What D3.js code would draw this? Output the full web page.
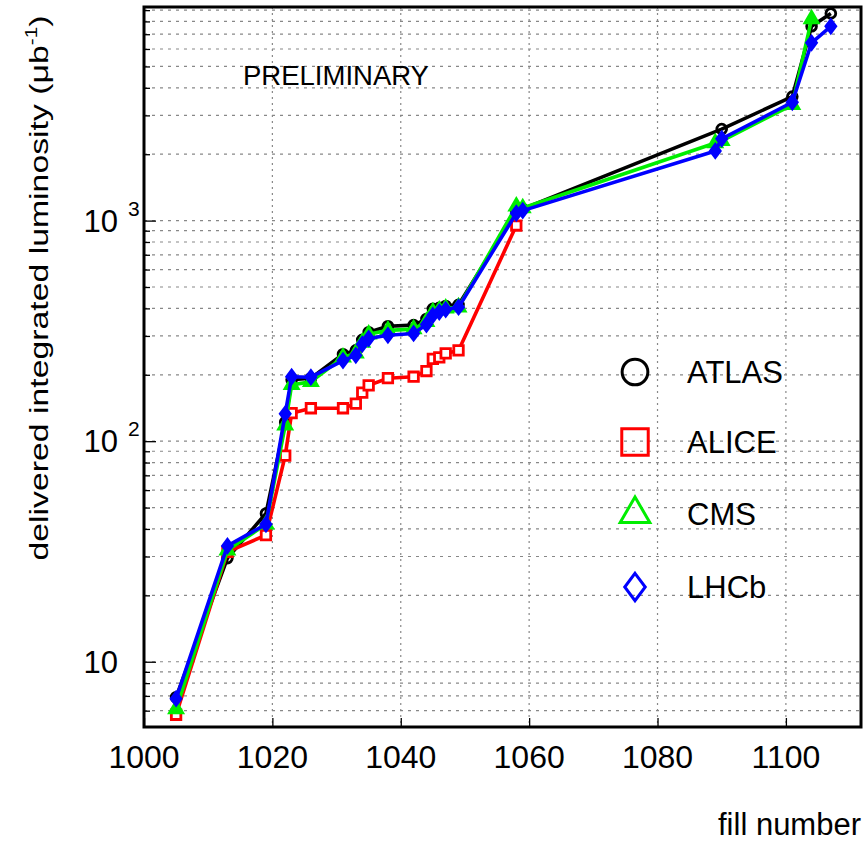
<!DOCTYPE html>
<html>
<head>
<meta charset="utf-8">
<script src="https://cdn.jsdelivr.net/npm/d3@7/dist/d3.min.js"></script>
<style>
  html, body { margin: 0; padding: 0; background: #fff; }
  svg text { font-family: "Liberation Sans", Arial, Helvetica, sans-serif; fill: #000; }
</style>
</head>
<body>
<div id="main"></div>
<script>
// data (fill number / delivered lumi in ub^-1)
const atlasFills = [1005, 1013, 1019, 1022, 1023, 1026, 1031, 1033, 1034, 1035, 1038, 1042, 1044, 1045, 1046, 1047, 1049, 1058, 1059, 1090, 1101, 1104, 1107];
const atlasLumi  = [6.9, 29.5, 47, 122, 190, 193, 248, 258, 288, 312, 332, 336, 358, 398, 402, 410, 415, 1100, 1130, 2600, 3650, 7600, 8700];

const aliceFills = [1005, 1013, 1019, 1022, 1023, 1026, 1031, 1033, 1034, 1035, 1038, 1042, 1044, 1045, 1046, 1047, 1049, 1058];
const aliceLumi  = [5.75, 31.5, 37.5, 86, 134, 141, 141, 148, 166, 179, 193, 196, 208, 236, 240, 250, 258, 950];

const cmsFills = [1005, 1013, 1019, 1022, 1023, 1026, 1031, 1033, 1034, 1035, 1038, 1042, 1044, 1045, 1046, 1047, 1049, 1058, 1059, 1089, 1090, 1101, 1104];
const cmsLumi  = [6.1, 32, 42, 118, 180, 186, 240, 250, 280, 305, 318, 322, 348, 385, 392, 400, 405, 1160, 1140, 2250, 2300, 3350, 8200];

const lhcbFills = [1005, 1013, 1019, 1022, 1023, 1026, 1031, 1033, 1034, 1035, 1038, 1042, 1044, 1045, 1046, 1047, 1049, 1058, 1059, 1089, 1090, 1101, 1104, 1107];
const lhcbLumi  = [6.8, 33.5, 42, 133, 196, 195, 232, 245, 275, 292, 302, 308, 338, 372, 385, 395, 405, 1080, 1110, 2070, 2350, 3440, 6400, 7600];

const seriesNames = ['ATLAS', 'ALICE', 'CMS', 'LHCb'];
const xTickValues = [1000, 1020, 1040, 1060, 1080, 1100];
const yTickValues = [10, 100, 1000];
const yTickExponents = ['', '2', '3'];

!(function () {
  'use strict';

  let
    svg = undefined,
    xScale = undefined,
    yScale = undefined;

  const canvas = {
    context: '#main',
    width: 866,
    height: 844,
    padding: { top: 7, right: 5, bottom: 117, left: 144 }
  };
  const plot = {
    left: canvas.padding.left,
    right: canvas.width - canvas.padding.right,
    top: canvas.padding.top,
    bottom: canvas.height - canvas.padding.bottom
  };

  // diamond a bit wider than d3's own
  const wideDiamond = {
    draw(ctx, size) {
      const h = Math.sqrt(size / 1.5);
      const w = h * 0.75;
      ctx.moveTo(0, -h);
      ctx.lineTo(w, 0);
      ctx.lineTo(0, h);
      ctx.lineTo(-w, 0);
      ctx.closePath();
    }
  };

  const series = [
    { name: seriesNames[0], fills: atlasFills, lumi: atlasLumi, color: '#000000', symbol: d3.symbolCircle, size: 75, fill: 'none', legendSize: 520 },
    { name: seriesNames[1], fills: aliceFills, lumi: aliceLumi, color: '#ff0000', symbol: d3.symbolSquare, size: 90, fill: '#fff', legendSize: 700 },
    { name: seriesNames[2], fills: cmsFills, lumi: cmsLumi, color: '#00ee00', symbol: d3.symbolTriangle, size: 75, fill: '#00ee00', legendSize: 380 },
    { name: seriesNames[3], fills: lhcbFills, lumi: lhcbLumi, color: '#0000ff', symbol: wideDiamond, size: 65, fill: '#0000ff', legendSize: 280 }
  ];

  function setCanvas() {
    svg = d3.select(canvas.context)
      .append('svg')
      .attr('width', canvas.width)
      .attr('height', canvas.height)
      .attr('viewBox', '0 0 ' + canvas.width + ' ' + canvas.height);
  }

  function setScales() {
    xScale = d3.scaleLinear()
      .domain([1000, 1111.7])
      .range([plot.left, plot.right]);
    yScale = d3.scaleLog()
      .domain([5.06, 9300])
      .range([plot.bottom, plot.top]);
  }

  function setGrid() {
    const g = svg.append('g').attr('class', 'grid');
    const yGrid = yScale.ticks().filter(v => yScale(v) > plot.top + 1 && yScale(v) < plot.bottom - 1);
    g.selectAll('line.h')
      .data(yGrid)
      .join('line')
      .attr('class', 'h')
      .attr('x1', plot.left).attr('x2', plot.right)
      .attr('y1', d => yScale(d)).attr('y2', d => yScale(d))
      .attr('stroke', '#888')
      .attr('stroke-width', 1.2)
      .attr('stroke-dasharray', '3,5');
    g.selectAll('line.v')
      .data(xTickValues.filter(v => v > 1000))
      .join('line')
      .attr('class', 'v')
      .attr('x1', d => xScale(d)).attr('x2', d => xScale(d))
      .attr('y1', plot.top).attr('y2', plot.bottom)
      .attr('stroke', '#888')
      .attr('stroke-width', 1.2)
      .attr('stroke-dasharray', '2,4');
  }

  function setXAxis() {
    const axis = svg.append('g')
      .attr('class', 'axis')
      .attr('transform', 'translate(0,' + plot.bottom + ')')
      .call(d3.axisTop(xScale).tickValues(xTickValues).tickSize(9).tickFormat(''));
    axis.select('.domain').remove();
    axis.selectAll('line').attr('stroke', '#000').attr('stroke-width', 1.3);

    svg.append('g')
      .selectAll('text')
      .data(xTickValues)
      .join('text')
      .attr('x', d => xScale(d))
      .attr('y', plot.bottom + 41)
      .attr('text-anchor', 'middle')
      .attr('font-size', 32)
      .text(d => d);

    svg.append('text')
      .attr('x', 861)
      .attr('y', 835)
      .attr('text-anchor', 'end')
      .attr('font-size', 31)
      .text('fill number');
  }

  function setYAxis() {
    const axis = svg.append('g')
      .attr('class', 'axis')
      .attr('transform', 'translate(' + plot.left + ',0)')
      .call(d3.axisRight(yScale).tickValues(yScale.ticks()).tickSize(6).tickFormat(''));
    axis.select('.domain').remove();
    axis.selectAll('.tick line')
      .attr('x2', d => yTickValues.includes(d) ? 12 : 6)
      .attr('stroke', '#000')
      .attr('stroke-width', 1.3);

    const labels = svg.append('g');
    yTickValues.forEach((v, i) => {
      labels.append('text')
        .attr('x', 118)
        .attr('y', yScale(v) + 11)
        .attr('text-anchor', 'end')
        .attr('font-size', 31)
        .text('10');
      if (yTickExponents[i]) {
        labels.append('text')
          .attr('x', 128)
          .attr('y', yScale(v) - 5)
          .attr('font-size', 21)
          .text(yTickExponents[i]);
      }
    });

    // the title in the picture is drawn long and narrow
    const title = svg.append('text')
      .attr('transform', 'translate(48,288) rotate(-90) scale(1.3,1)')
      .attr('text-anchor', 'middle')
      .attr('font-size', 26);
    title.append('tspan').text('delivered integrated luminosity (\u03bcb');
    title.append('tspan').attr('font-size', 16).attr('dy', -11).text('-1');
    title.append('tspan').attr('dy', 11).text(')');
  }

  function setSeries() {
    const line = d3.line()
      .x(d => xScale(d[0]))
      .y(d => yScale(d[1]));

    series.forEach(s => {
      const pts = s.fills.map((f, i) => [f, s.lumi[i]]);
      const g = svg.append('g').attr('class', 'series');
      g.append('path')
        .datum(pts)
        .attr('d', line)
        .attr('fill', 'none')
        .attr('stroke', s.color)
        .attr('stroke-width', 3.6)
        .attr('stroke-linejoin', 'round');
      g.selectAll('path.mark')
        .data(pts)
        .join('path')
        .attr('class', 'mark')
        .attr('transform', d => 'translate(' + xScale(d[0]) + ',' + yScale(d[1]) + ')')
        .attr('d', d3.symbol(s.symbol, s.size))
        .attr('fill', s.fill)
        .attr('stroke', s.color)
        .attr('stroke-width', 2.8);
    });
  }

  function setLegend() {
    const rows = [372, 442, 514, 587];
    const g = svg.append('g').attr('class', 'legend');
    series.forEach((s, i) => {
      g.append('path')
        .attr('transform', 'translate(635,' + rows[i] + ')')
        .attr('d', d3.symbol(s.symbol, s.legendSize))
        .attr('fill', 'none')
        .attr('stroke', s.color)
        .attr('stroke-width', 3);
      g.append('text')
        .attr('x', 687)
        .attr('y', rows[i] + 11)
        .attr('font-size', 31)
        .text(s.name);
    });
  }

  function setFrame() {
    svg.append('rect')
      .attr('x', plot.left)
      .attr('y', plot.top)
      .attr('width', plot.right - plot.left)
      .attr('height', plot.bottom - plot.top)
      .attr('fill', 'none')
      .attr('stroke', '#000')
      .attr('stroke-width', 3);

    svg.append('text')
      .attr('x', 243)
      .attr('y', 85)
      .attr('font-size', 27.5)
      .text('PRELIMINARY');
  }

  // control
  setCanvas();
  setScales();
  setGrid();
  setXAxis();
  setYAxis();
  setSeries();
  setLegend();
  setFrame();
}());
</script>
</body>
</html>
